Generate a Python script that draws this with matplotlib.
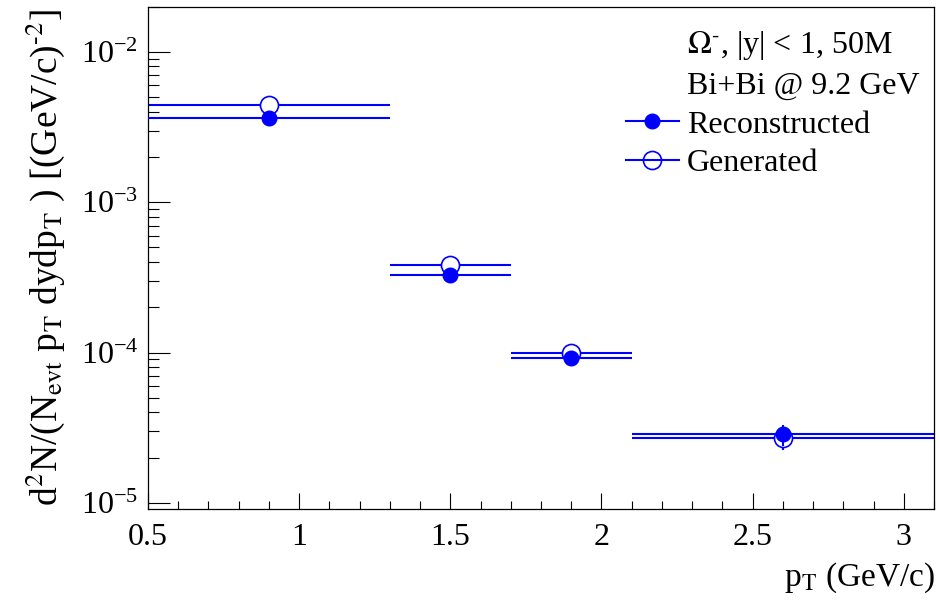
import matplotlib
matplotlib.use("Agg")
import matplotlib.pyplot as plt
from matplotlib.lines import Line2D
from matplotlib.ticker import LogLocator, LogFormatterMathtext, MultipleLocator, FixedLocator, NullFormatter

plt.rcParams['font.family'] = ['Liberation Serif', 'DejaVu Serif']
plt.rcParams['mathtext.fontset'] = 'stix'

# data
pt = [0.9, 1.5, 1.9, 2.6]
pt_halfwidth = [0.4, 0.2, 0.2, 0.5]
reconstructed = [3.61e-3, 3.28e-4, 9.18e-5, 2.85e-5]
reconstructed_err = [0.40e-3, 0.35e-4, 1.0e-5, 0.45e-5]
generated = [4.42e-3, 3.84e-4, 9.95e-5, 2.68e-5]
generated_err = [0.20e-3, 0.15e-4, 0.4e-5, 0.45e-5]
x_ticks = [0.5, 1, 1.5, 2, 2.5, 3]
x_tick_labels = ["0.5", "1", "1.5", "2", "2.5", "3"]

blue = '#0000ff'

fig = plt.figure(figsize=(9.4, 6.01), dpi=100)
ax = fig.add_axes([0.1574, 0.1531, 0.8362, 0.8358])

ax.errorbar(pt, generated, xerr=pt_halfwidth, yerr=generated_err, fmt='o',
            color=blue, mfc='white', mec=blue, ms=13, mew=1.2, elinewidth=1.5,
            capsize=0, zorder=2)
ax.errorbar(pt, reconstructed, xerr=pt_halfwidth, yerr=reconstructed_err, fmt='o',
            color=blue, mfc=blue, mec=blue, ms=10.5, elinewidth=1.5,
            capsize=0, zorder=3)

ax.set_yscale('log')
ax.set_xlim(0.5, 3.1)
ax.set_ylim(9.1e-6, 2.0e-2)

ax.xaxis.set_major_locator(FixedLocator(x_ticks))
ax.set_xticklabels(x_tick_labels)
ax.xaxis.set_minor_locator(MultipleLocator(0.1))
ax.yaxis.set_major_locator(LogLocator(base=10, numticks=10))
ax.yaxis.set_minor_locator(LogLocator(base=10, subs=range(2, 10), numticks=20))
ax.yaxis.set_major_formatter(LogFormatterMathtext())
ax.yaxis.set_minor_formatter(NullFormatter())

ax.tick_params(axis='both', which='both', direction='in', top=False, right=False)
ax.tick_params(axis='x', which='major', length=11.5, width=0.8, labelsize=23, pad=10)
ax.tick_params(axis='x', which='minor', length=5.8, width=0.8)
ax.tick_params(axis='y', which='major', length=16, width=0.8, labelsize=23, pad=7)
ax.tick_params(axis='y', which='minor', length=7.7, width=0.8)
for s in ax.spines.values():
    s.set_linewidth(0.9)

fig.text(0.048, 0.985,
         r'd$^{2}$N/(N$_{\rm evt}$ p$_{\rm T}$ dydp$_{\rm T}$ ) [(GeV/c)$^{\text{-}2}$]',
         rotation=90, ha='center', va='top', fontsize=27)
fig.text(0.995, 0.038, r'p$_{\rm T}$ (GeV/c)', ha='right', va='center', fontsize=24)

blank = Line2D([], [], linestyle='none', marker=None)
h_rec = Line2D([], [], color=blue, lw=1.5, marker='o', ms=10.5, mfc=blue, mec=blue)
h_gen = Line2D([], [], color=blue, lw=1.5, marker='o', ms=13, mfc='none', mec=blue, mew=1.2)
leg = ax.legend([blank, blank, h_rec, h_gen],
                [r'$\Omega^{\text{-}}$, |y| < 1, 50M', 'Bi+Bi @ 9.2 GeV', 'Reconstructed', 'Generated'],
                loc='upper left', bbox_to_anchor=(0.6, 0.969), frameon=False,
                fontsize=23, handlelength=1.65, handletextpad=0.25, labelspacing=0.3,
                borderaxespad=0, borderpad=0.2)

fig.savefig('out.png', dpi=100)
